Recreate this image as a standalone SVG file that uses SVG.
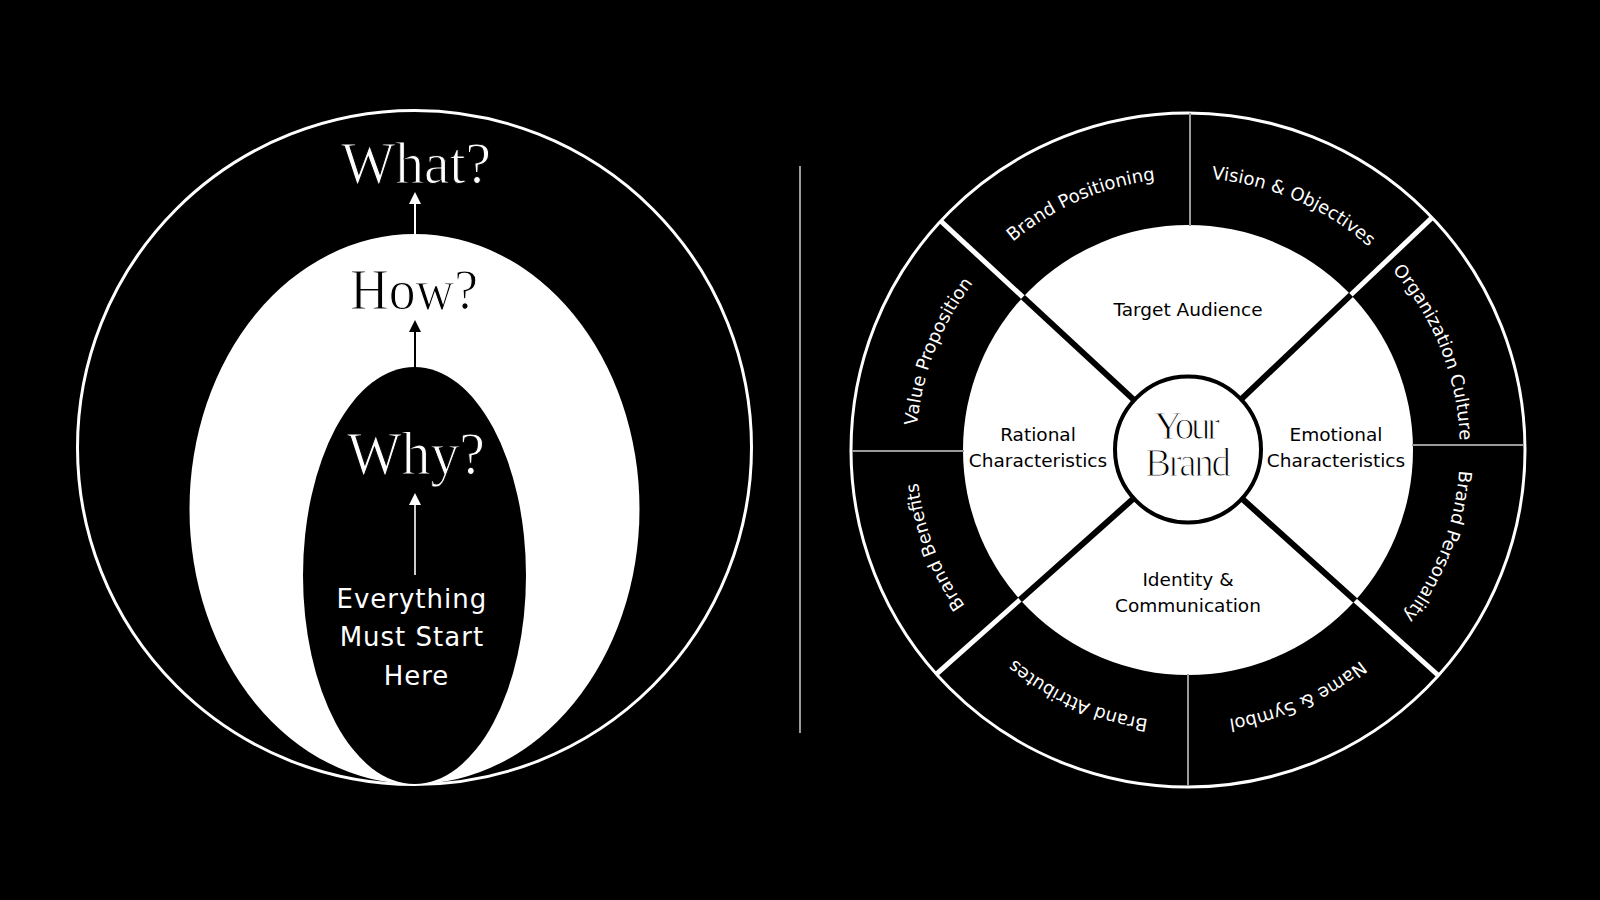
<svg xmlns="http://www.w3.org/2000/svg" width="1600" height="900" viewBox="0 0 1600 900">
  <defs>
    <style>
      .serif { font-family: "Liberation Serif", "Times New Roman", serif; font-weight: normal; }
      .sans { font-family: "DejaVu Sans", "Liberation Sans", sans-serif; font-weight: normal; }
      .w { fill: #ffffff; }
      .b { fill: #000000; }
      .thinW { stroke: #000000; stroke-width: 1.1; paint-order: fill stroke; }
      .thinB { stroke: #ffffff; stroke-width: 1.1; paint-order: fill stroke; }
      .lbl { font-size: 18.5px; text-anchor: middle; }
      .ring { font-size: 18px; fill: #ffffff; text-anchor: middle; }
      .thin { stroke: #9a9a9a; stroke-width: 2; fill: none; }
      .gapw { stroke: #ffffff; stroke-width: 5; }
      .gapb { stroke: #000000; stroke-width: 6; }
    </style>
    <marker id="headW" markerUnits="userSpaceOnUse" markerWidth="12" markerHeight="12" refX="0" refY="6" orient="auto">
      <path d="M0,0 L12,6 L0,12 Z" fill="#ffffff"/>
    </marker>
    <marker id="headB" markerUnits="userSpaceOnUse" markerWidth="12" markerHeight="12" refX="0" refY="6" orient="auto">
      <path d="M0,0 L12,6 L0,12 Z" fill="#000000"/>
    </marker>
    <path id="ringPath" d="M1460,450 A272,272 0 1 1 916,450 A272,272 0 1 1 1460,450" fill="none"/>
  </defs>

  <rect x="0" y="0" width="1600" height="900" fill="#000000"/>

  <!-- LEFT: Why / How / What -->
  <g id="what">
    <circle cx="414.5" cy="447.5" r="337" fill="#000000" stroke="#ffffff" stroke-width="3"/>
    <text class="serif w thinW" x="341" y="183" font-size="60" textLength="150" lengthAdjust="spacingAndGlyphs">What?</text>
  </g>
  <g id="how">
    <ellipse cx="414.5" cy="509" rx="225" ry="275" fill="#ffffff"/>
    <text class="serif b thinB" x="350" y="309" font-size="56" textLength="128" lengthAdjust="spacingAndGlyphs">How?</text>
  </g>
  <g id="why">
    <ellipse cx="414.5" cy="575.5" rx="111.5" ry="208.5" fill="#000000"/>
    <text class="serif w thinW" x="347" y="474" font-size="62" textLength="138" lengthAdjust="spacingAndGlyphs">Why?</text>
  </g>
  <g id="start">
    <text class="sans w" font-size="26" letter-spacing="1" text-anchor="middle">
      <tspan x="416.5" y="608">Everything</tspan>
      <tspan x="416.5" y="646">Must Start</tspan>
      <tspan x="416.5" y="685">Here</tspan>
    </text>
  </g>

  <g id="connectors">
    <line x1="415" y1="234" x2="415" y2="204" stroke="#ffffff" stroke-width="2" marker-end="url(#headW)"/>
    <line x1="415" y1="368" x2="415" y2="332" stroke="#000000" stroke-width="2" marker-end="url(#headB)"/>
    <line x1="415" y1="575" x2="415" y2="505" stroke="#ffffff" stroke-width="1.6" marker-end="url(#headW)"/>
  </g>

  <!-- Separator -->
  <line id="separator" x1="800" y1="166" x2="800" y2="733" stroke="#9a9a9a" stroke-width="2"/>

  <!-- RIGHT: Brand wheel -->
  <g id="wheel">
    <circle cx="1188" cy="450" r="337" fill="#000000" stroke="#ffffff" stroke-width="3"/>
    <circle cx="1188" cy="450" r="225" fill="#ffffff"/>
    <line class="thin" x1="1190" y1="113" x2="1190" y2="226"/>
    <line class="thin" x1="1188" y1="674" x2="1188" y2="786"/>
    <line class="thin" x1="852" y1="451" x2="964" y2="451"/>
    <line class="thin" x1="1412" y1="445" x2="1524" y2="445"/>
    <line class="gapw" x1="1438.4" y1="675.5" x2="1355.2" y2="600.5"/>
    <line class="gapw" x1="936.4" y1="674.2" x2="1020.0" y2="599.7"/>
    <line class="gapw" x1="940.7" y1="221.0" x2="1022.9" y2="297.1"/>
    <line class="gapw" x1="1432.1" y1="217.6" x2="1350.9" y2="294.8"/>
    <line class="gapb" x1="1355.2" y1="600.5" x2="1240.0" y2="496.8"/>
    <line class="gapb" x1="1020.0" y1="599.7" x2="1135.7" y2="496.6"/>
    <line class="gapb" x1="1022.9" y1="297.1" x2="1136.6" y2="402.4"/>
    <line class="gapb" x1="1350.9" y1="294.8" x2="1238.7" y2="401.7"/>
  </g>

  <g id="brand-personality"><text class="sans ring"><textPath href="#ringPath" startOffset="99.7">Brand Personality</textPath></text></g>
  <g id="name-symbol"><text class="sans ring"><textPath href="#ringPath" startOffset="313.3">Name &amp; Symbol</textPath></text></g>
  <g id="brand-attributes"><text class="sans ring"><textPath href="#ringPath" startOffset="541.2">Brand Attributes</textPath></text></g>
  <g id="brand-benefits"><text class="sans ring"><textPath href="#ringPath" startOffset="754.8">Brand Benefits</textPath></text></g>
  <g id="value-proposition"><text class="sans ring"><textPath href="#ringPath" startOffset="956.1">Value Proposition</textPath></text></g>
  <g id="brand-positioning"><text class="sans ring"><textPath href="#ringPath" startOffset="1169.7">Brand Positioning</textPath></text></g>
  <g id="vision-objectives"><text class="sans ring"><textPath href="#ringPath" startOffset="1391.9">Vision &amp; Objectives</textPath></text></g>
  <g id="organization-culture"><text class="sans ring"><textPath href="#ringPath" startOffset="1605.5">Organization Culture</textPath></text></g>

  <g id="target-audience"><text class="sans lbl b" x="1188" y="315.5">Target Audience</text></g>
  <g id="rational">
    <text class="sans lbl b"><tspan x="1038" y="440.5">Rational</tspan><tspan x="1038" y="466.5">Characteristics</tspan></text>
  </g>
  <g id="emotional">
    <text class="sans lbl b"><tspan x="1336" y="440.5">Emotional</tspan><tspan x="1336" y="466.5">Characteristics</tspan></text>
  </g>
  <g id="identity">
    <text class="sans lbl b"><tspan x="1188" y="586">Identity &amp;</tspan><tspan x="1188" y="611.5">Communication</tspan></text>
  </g>

  <g id="your-brand">
    <circle cx="1188" cy="449.5" r="73" fill="#ffffff" stroke="#000000" stroke-width="4"/>
    <text class="serif b thinB" font-size="39" stroke-width="0.8" lengthAdjust="spacingAndGlyphs">
      <tspan x="1154" y="439" textLength="66">Your</tspan>
      <tspan x="1145" y="476" textLength="86">Brand</tspan>
    </text>
  </g>
</svg>
